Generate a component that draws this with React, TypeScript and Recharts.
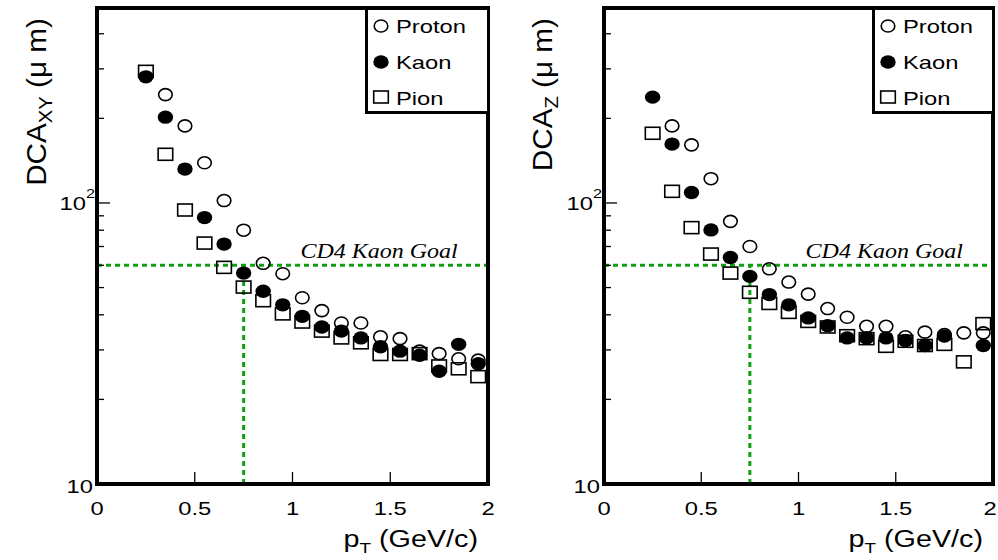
import React from 'react';
import {
  ScatterChart, Scatter, XAxis, YAxis, ReferenceLine, ReferenceDot, Legend,
} from 'recharts';

// ---------- data ----------
const PT = [0.25, 0.35, 0.45, 0.55, 0.65, 0.75, 0.85, 0.95, 1.05, 1.15, 1.25, 1.35, 1.45, 1.55, 1.65, 1.75, 1.85, 1.95];

const PROTON_XY = [null, 243, 188, 139, 102, 80, 61, 56, 46, 41.4, 37.4, 37.4, 33.4, 32.9, 29.7, 29.1, 27.9, 27.6];
const KAON_XY = [281, 202, 132, 88.7, 71.4, 56.3, 48.5, 43.4, 39.5, 36.2, 35, 33.1, 30.8, 29.7, 28.7, 25.2, 31.4, 26.8];
const PION_XY = [294, 149, 94.4, 72, 59, 50.2, 44.9, 40.3, 37.7, 35, 33.1, 31.8, 28.9, 28.9, 29.1, 26.3, 25.7, 24.1];

const PROTON_Z = [null, 188, 161, 122, 86, 70, 58.3, 52.3, 47.4, 42.1, 39.2, 36.4, 36.4, 33.4, 34.7, 34, 34.5, 34.5];
const KAON_Z = [238, 162, 109, 80.2, 64, 54.8, 47.2, 43.4, 39, 36.6, 33.1, 33.1, 33.1, 32.4, 31.1, 33.6, null, 31.1];
const PION_Z = [177, 110, 81.7, 65.8, 56.3, 48.1, 43.9, 40.8, 37.9, 36.2, 33.7, 32.9, 30.9, 32.2, 31.1, 31.4, 27.2, 37.2];

const X_TICKS = [0, 0.5, 1, 1.5, 2];
const X_TICK_LABELS = ['0', '0.5', '1', '1.5', '2'];
const Y_TICKS = [10, 20, 30, 40, 50, 60, 70, 80, 90, 100, 200, 300, 400];
const SERIES_NAMES = ['Proton', 'Kaon', 'Pion'];
const GOAL_VALUE = 60;
const GOAL_PT = 0.75;
const GOAL_LABEL = 'CD4 Kaon Goal';
const GOAL_LABEL_END = 1.845;
const X_DOMAIN = [0, 2];
const Y_DOMAIN = [10, 494];

// ---------- styles ----------
const SANS = '"Liberation Sans", Arial, Helvetica, sans-serif';
const SERIF = '"Liberation Serif", "Times New Roman", serif';
const SX = 1.25;
const GREEN = '#11a011';
const FRAME_W = 4;

const rows = (vals: (number | null)[]) =>
  PT.map((x, i) => ({ x, y: vals[i] })).filter((d) => d.y != null);

function SText({ x, y, size, anchor = 'start', sx = SX, family = SANS, italic = false, children }: any) {
  return (
    <text
      transform={`translate(${x},${y}) scale(${sx},1)`}
      x={0}
      y={0}
      fontSize={size}
      fontFamily={family}
      fontStyle={italic ? 'italic' : 'normal'}
      textAnchor={anchor}
      fill="#000"
    >
      {children}
    </text>
  );
}

const OpenCircle = ({ cx, cy }: any) =>
  cx == null ? null : <ellipse cx={cx} cy={cy} rx={6.8} ry={6} fill="none" stroke="#000" strokeWidth={1.6} />;
const FilledCircle = ({ cx, cy }: any) =>
  cx == null ? null : <ellipse cx={cx} cy={cy} rx={7.7} ry={6.7} fill="#000" />;
const OpenSquare = ({ cx, cy }: any) =>
  cx == null ? null : <rect x={cx - 7.3} y={cy - 6} width={14.6} height={12} fill="none" stroke="#000" strokeWidth={1.6} />;

const makeXTick = (lastShift: number, plotTop: number) => (props: any) => {
  const { x, y, payload } = props;
  const idx = X_TICKS.indexOf(payload.value);
  const isLast = idx === X_TICKS.length - 1;
  const h = FRAME_W / 2;
  return (
    <g>
      <line x1={x} y1={y} x2={x} y2={y - 12} stroke="#000" strokeWidth={1.3} />
      {(idx === 0 || isLast) && (
        <line x1={x} y1={y + h} x2={x} y2={plotTop - h} stroke="#000" strokeWidth={FRAME_W} />
      )}
      <SText x={x + (isLast ? lastShift : 0)} y={y + 31} size={19} anchor="middle">{X_TICK_LABELS[idx]}</SText>
    </g>
  );
};

const makeYTick = (plotRight: number) => (props: any) => {
  const { x, y, payload } = props;
  const v = payload.value;
  const major = v === 10 || v === 100;
  return (
    <g>
      <line x1={x} y1={y} x2={x + (major ? 13 : 7)} y2={y} stroke="#000" strokeWidth={1.3} />
      {v === 10 && <line x1={x} y1={y} x2={plotRight} y2={y} stroke="#000" strokeWidth={FRAME_W} />}
      {v === 10 && <SText x={x - 4} y={y + 9} size={19} anchor="end">10</SText>}
      {v === 100 && (
        <g>
          <SText x={x - 11} y={y + 7} size={19} anchor="end">10</SText>
          <SText x={x - 2} y={y - 5} size={13} anchor="end">2</SText>
        </g>
      )}
    </g>
  );
};

const LegendBox = ({ width }: any) => (
  <svg width={width} height={107} style={{ display: 'block' }}>
    <rect x={1.5} y={1.5} width={width - 3} height={104} fill="#fff" stroke="#000" strokeWidth={3} />
    <OpenCircle cx={16} cy={19} />
    <FilledCircle cx={16} cy={55} />
    <OpenSquare cx={16} cy={90} />
    <SText x={31} y={26} size={19}>{SERIES_NAMES[0]}</SText>
    <SText x={31} y={62} size={19}>{SERIES_NAMES[1]}</SText>
    <SText x={31} y={98} size={19}>{SERIES_NAMES[2]}</SText>
  </svg>
);

function Panel({ left, width, yAxisWidth, marginRight, proton, kaon, pion, sub, labelX, xLabelEnd, legendLeft, legendWidth, lastShift }: any) {
  const plotTop = 8;
  const plotRight = width - marginRight;
  const XTickComp = makeXTick(lastShift, plotTop);
  const YTickComp = makeYTick(plotRight);
  return (
    <div style={{ position: 'absolute', left, top: 0, width, height: 560 }}>
      <ScatterChart width={width} height={560} margin={{ top: plotTop, right: marginRight, left: 0, bottom: 0 }}>
        <XAxis
          dataKey="x"
          type="number"
          domain={X_DOMAIN}
          ticks={X_TICKS}
          interval={0}
          height={76}
          axisLine={false}
          tickLine={false}
          tickSize={0}
          tickMargin={0}
          tick={<XTickComp />}
          allowDataOverflow
          label={{
            content: () => (
              <text
                transform={`translate(${xLabelEnd},547) scale(${SX},1)`}
                textAnchor="end"
                fontSize={23}
                fontFamily={SANS}
                fill="#000"
              >
                p<tspan fontSize={15} dy={6}>T</tspan><tspan dy={-6}> (GeV/c)</tspan>
              </text>
            ),
          }}
        />
        <YAxis
          dataKey="y"
          type="number"
          scale="log"
          domain={Y_DOMAIN}
          ticks={Y_TICKS}
          interval={0}
          width={yAxisWidth}
          axisLine={false}
          tickLine={false}
          tickSize={0}
          tickMargin={0}
          tick={<YTickComp />}
          allowDataOverflow
          label={{
            content: () => (
              <text
                transform={`translate(${labelX},18) rotate(-90) scale(1.35,1.28)`}
                textAnchor="end"
                fontSize={22}
                fontFamily={SANS}
                fill="#000"
              >
                DCA<tspan fontSize={15} dy={5}>{sub}</tspan><tspan dy={-5}> (μ m)</tspan>
              </text>
            ),
          }}
        />
        <ReferenceLine
          segment={[{ x: 0, y: GOAL_VALUE }, { x: 2, y: GOAL_VALUE }]}
          stroke={GREEN}
          strokeWidth={3}
          strokeDasharray="5 4"
        />
        <ReferenceLine
          segment={[{ x: GOAL_PT, y: 10 }, { x: GOAL_PT, y: GOAL_VALUE }]}
          stroke={GREEN}
          strokeWidth={3}
          strokeDasharray="5 4"
        />
        <ReferenceLine
          segment={[{ x: X_DOMAIN[0], y: Y_DOMAIN[1] }, { x: X_DOMAIN[1], y: Y_DOMAIN[1] }]}
          stroke="#000"
          strokeWidth={FRAME_W}
          ifOverflow="visible"
        />
        <ReferenceDot
          x={GOAL_LABEL_END}
          y={GOAL_VALUE}
          r={0}
          fill="none"
          stroke="none"
          label={{
            content: (p: any) => {
              const vb = p.viewBox || {};
              return (
                <SText x={vb.x} y={vb.y - 7} size={20} anchor="end" family={SERIF} italic sx={1.2}>
                  {GOAL_LABEL}
                </SText>
              );
            },
          }}
        />
        <Scatter name={SERIES_NAMES[2]} data={pion} shape={<OpenSquare />} isAnimationActive={false} />
        <Scatter name={SERIES_NAMES[0]} data={proton} shape={<OpenCircle />} isAnimationActive={false} />
        <Scatter name={SERIES_NAMES[1]} data={kaon} shape={<FilledCircle />} isAnimationActive={false} />
        <Legend
          layout="vertical"
          align="center"
          verticalAlign="middle"
          wrapperStyle={{ position: 'absolute', left: legendLeft, top: 7, width: legendWidth, height: 107 }}
          content={() => <LegendBox width={legendWidth} />}
        />
      </ScatterChart>
    </div>
  );
}

export default function App() {
  return (
    <div style={{ position: 'absolute', left: 0, top: 0, width: 998, height: 560, background: '#fff' }}>
      <Panel
        left={0}
        width={500}
        yAxisWidth={97}
        marginRight={12}
        proton={rows(PROTON_XY)}
        kaon={rows(KAON_XY)}
        pion={rows(PION_XY)}
        sub="XY"
        labelX={46}
        xLabelEnd={478}
        legendLeft={365}
        legendWidth={125}
        lastShift={0}
      />
      <Panel
        left={500}
        width={498}
        yAxisWidth={104}
        marginRight={5}
        proton={rows(PROTON_Z)}
        kaon={rows(KAON_Z)}
        pion={rows(PION_Z)}
        sub="Z"
        labelX={52}
        xLabelEnd={483}
        legendLeft={372}
        legendWidth={123}
        lastShift={-3}
      />
    </div>
  );
}
